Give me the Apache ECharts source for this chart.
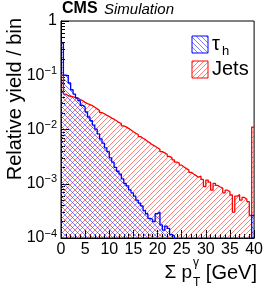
<!DOCTYPE html>
<html>
<head>
<meta charset="utf-8">
<script src="https://cdn.jsdelivr.net/npm/echarts@6/dist/echarts.min.js"></script>
<style>
html,body{margin:0;padding:0;background:#fff;}
#chart{width:266px;height:291px;}
</style>
</head>
<body>
<div id="chart"></div>
<script>
// bin edges: 0.5 GeV bins from 0 to 40 (last bin includes overflow)
var binWidth = 0.5;
var xTicks = [0, 5, 10, 15, 20, 25, 30, 35, 40];
var yDecades = [1e-4, 1e-3, 1e-2, 1e-1, 1];

var tauValues = [
  0.39, 0.100, 0.098, 0.072, 0.054, 0.045, 0.038, 0.034, 0.028, 0.026,
  0.021, 0.017, 0.0145, 0.012, 0.0102, 0.0083, 0.0067, 0.0056, 0.0046, 0.0039,
  0.0030, 0.0025, 0.0020, 0.0017, 0.0015, 0.00123, 0.00102, 0.00091, 0.00077, 0.00068,
  0.00059, 0.00050, 0.00044, 0.00039, 0.00032, 0.00028, 0.00023, 0.00022, 0.00020, 0.00028,
  0.00030, 0.000175, 0.00014, 0.000165, 0.00015, 0.000115, 0.00011, 1e-6, 1e-6, 1e-6,
  1e-6, 1e-6, 1e-6, 1e-6, 1e-6, 1e-6, 1e-6, 1e-6, 1e-6, 1e-6,
  1e-6, 1e-6, 1e-6, 1e-6, 1e-6, 1e-6, 1e-6, 1e-6, 1e-6, 1e-6,
  1e-6, 1e-6, 1e-6, 1e-6, 1e-6, 1e-6, 1e-6, 1e-6, 1e-6, 0.00026
];

var jetValues = [
  0.100, 0.045, 0.042, 0.041, 0.040, 0.039, 0.038, 0.0355, 0.034, 0.0316,
  0.030, 0.0288, 0.0275, 0.0257, 0.024, 0.0224, 0.0204, 0.0195, 0.0182, 0.0174,
  0.0162, 0.0155, 0.0145, 0.0135, 0.0129, 0.0117, 0.0112, 0.0105, 0.0098, 0.0091,
  0.0085, 0.0081, 0.0074, 0.0069, 0.0065, 0.0060, 0.0056, 0.0052, 0.0049, 0.0046,
  0.0043, 0.0039, 0.0037, 0.0035, 0.0032, 0.0030, 0.00275, 0.0025, 0.0024, 0.0022,
  0.00204, 0.0019, 0.00178, 0.00162, 0.00151, 0.00141, 0.00132, 0.00138, 0.0012, 0.00089,
  0.00117, 0.00107, 0.00076, 0.00102, 0.00093, 0.00087, 0.00083, 0.00068, 0.00076, 0.00072,
  0.00062, 0.0003, 0.00059, 0.00063, 0.0005, 0.00056, 0.00052, 0.00047, 0.00026, 0.0111
];

var minorY = [];
yDecades.slice(0, -1).forEach(function (d) {
  for (var k = 2; k <= 9; k++) minorY.push(d * k);
});

function stepData(vals) {
  var out = vals.map(function (v, i) { return [i * binWidth, v]; });
  out.push([vals.length * binWidth, vals[vals.length - 1]]);
  return out;
}

function hatch(color, dir) {
  var s = 5;
  var c = document.createElement('canvas');
  c.width = s; c.height = s;
  var g = c.getContext('2d');
  g.strokeStyle = color;
  g.lineWidth = 1;
  g.beginPath();
  if (dir === '/') {
    g.moveTo(-1, s + 1); g.lineTo(s + 1, -1);
    g.moveTo(-1, 1); g.lineTo(1, -1);
    g.moveTo(s - 1, s + 1); g.lineTo(s + 1, s - 1);
  } else {
    g.moveTo(-1, -1); g.lineTo(s + 1, s + 1);
    g.moveTo(s - 1, -1); g.lineTo(s + 1, 1);
    g.moveTo(-1, s - 1); g.lineTo(1, s + 1);
  }
  g.stroke();
  return { image: c, repeat: 'repeat' };
}

var redHatch = hatch('rgba(255,40,40,0.6)', '/');
var blueHatch = hatch('rgba(40,40,255,0.6)', '\\');
var FONT = '"Liberation Sans", Arial, Helvetica, sans-serif';

var chart = echarts.init(document.getElementById('chart'), null, { renderer: 'canvas' });
chart.setOption({
  animation: false,
  backgroundColor: '#fff',
  grid: { left: 61, right: 11, top: 21, bottom: 53, show: true, borderColor: '#000', borderWidth: 1, backgroundColor: 'transparent' },
  xAxis: {
    type: 'value', min: 0, max: 40, interval: 5,
    axisLine: { show: true, onZero: false, lineStyle: { color: '#000', width: 1 } },
    axisTick: { show: true, inside: true, length: 8, lineStyle: { color: '#000' } },
    minorTick: { show: true, splitNumber: 5, length: 4, lineStyle: { color: '#000' } },
    splitLine: { show: false },
    axisLabel: { color: '#000', fontSize: 16, fontFamily: FONT, margin: 4,
      customValues: xTicks }
  },
  yAxis: [{
    type: 'log', logBase: 10, min: 1e-4, max: 1,
    axisLine: { show: true, lineStyle: { color: '#000', width: 1 } },
    axisTick: { show: true, inside: true, length: 8, lineStyle: { color: '#000' }, customValues: yDecades },
    splitLine: { show: false },
    axisLabel: {
      customValues: yDecades,
      margin: 4,
      formatter: function (v) {
        var e = Math.round(Math.log10(v));
        if (e === 0) return '{b|1}';
        return '{b|10}{s|\u2212' + (-e) + '}';
      },
      rich: {
        b: { fontSize: 16, fontFamily: FONT, color: '#000' },
        s: { fontSize: 11, fontFamily: FONT, color: '#000', padding: [0, 0, 9, 0] }
      }
    }
  }, {
    type: 'log', logBase: 10, min: 1e-4, max: 1, position: 'left',
    axisLine: { show: false },
    axisTick: { show: true, inside: true, length: 4, lineStyle: { color: '#000' }, customValues: minorY },
    axisLabel: { show: false },
    splitLine: { show: false }
  }],
  series: [{
    name: 'Jets', type: 'line', step: 'end', yAxisIndex: 0,
    data: stepData(jetValues), showSymbol: false, clip: true,
    lineStyle: { color: '#ff0000', width: 1.3 },
    areaStyle: { color: redHatch, origin: 'start', opacity: 1 },
    z: 2
  }, {
    name: 'τh', type: 'line', step: 'end', yAxisIndex: 0,
    data: stepData(tauValues), showSymbol: false, clip: true,
    lineStyle: { color: '#0000ff', width: 1.3 },
    areaStyle: { color: blueHatch, origin: 'start', opacity: 1 },
    z: 3
  }],
  graphic: [
    { type: 'text', left: 62, top: 1, style: { text: 'CMS', font: 'bold 16px ' + FONT, fill: '#000' } },
    { type: 'text', left: 104, top: 2, style: { text: 'Simulation', font: 'italic 15px ' + FONT, fill: '#000' } },
    { type: 'text', x: 15, y: 18, rotation: Math.PI / 2,
      style: { text: 'Relative yield / bin', font: '20px ' + FONT, fill: '#000', align: 'right', verticalAlign: 'middle' } },
    { type: 'text', x: 192, y: 273, style: { text: '\u03A3 p', font: '19px ' + FONT, fill: '#000', align: 'right', verticalAlign: 'middle' } },
    { type: 'text', x: 193, y: 263, style: { text: '\u03B3', font: '12px ' + FONT, fill: '#000', align: 'left', verticalAlign: 'middle' } },
    { type: 'text', x: 193, y: 283, style: { text: 'T', font: '12px ' + FONT, fill: '#000', align: 'left', verticalAlign: 'middle' } },
    { type: 'text', x: 257, y: 273, style: { text: '[GeV]', font: '20px ' + FONT, fill: '#000', align: 'right', verticalAlign: 'middle' } },
    { type: 'rect', shape: { x: 192, y: 36, width: 16, height: 17 }, style: { fill: blueHatch, stroke: '#0000ff', lineWidth: 1 } },
    { type: 'rect', shape: { x: 192, y: 61, width: 16, height: 17 }, style: { fill: redHatch, stroke: '#ff0000', lineWidth: 1 } },
    { type: 'text', x: 212, y: 44, style: { text: '\u03C4', font: '20px ' + FONT, fill: '#000', align: 'left', verticalAlign: 'middle' } },
    { type: 'text', x: 222, y: 51, style: { text: 'h', font: '13px ' + FONT, fill: '#000', align: 'left', verticalAlign: 'middle' } },
    { type: 'text', x: 212, y: 69, style: { text: 'Jets', font: '20px ' + FONT, fill: '#000', align: 'left', verticalAlign: 'middle' } }
  ]
});
</script>
</body>
</html>
